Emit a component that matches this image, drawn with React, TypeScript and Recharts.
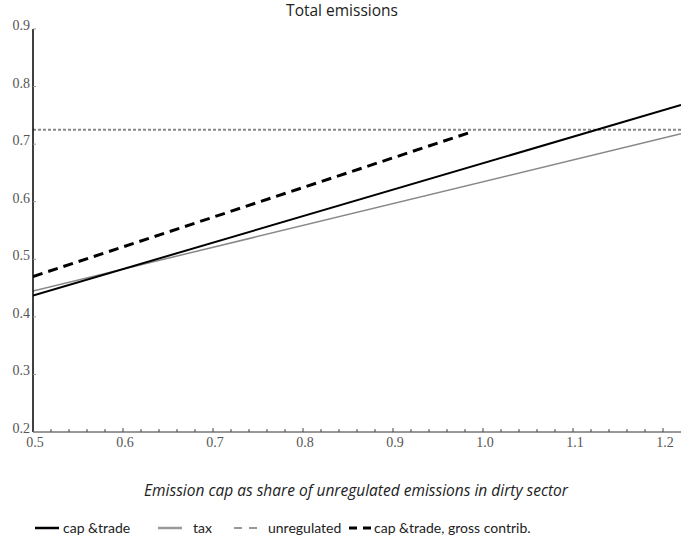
import { LineChart, Line, XAxis, YAxis } from 'recharts';

// x positions (emission cap as share of unregulated emissions)
const X_START = 0.5;
const X_END = 1.22;
const GROSS_END = 0.985;

const CAP_TRADE = [0.437, 0.768];
const TAX = [0.445, 0.718];
const UNREGULATED = [0.725, 0.725];
const GROSS = [0.47, 0.72];

const Y_TICKS = [0.2, 0.3, 0.4, 0.5, 0.6, 0.7, 0.8, 0.9];
const X_MAJOR = [0.5, 0.6, 0.7, 0.8, 0.9, 1.0, 1.1, 1.2];
const X_MINOR = [
  0.52, 0.54, 0.56, 0.58, 0.62, 0.64, 0.66, 0.68, 0.72, 0.74, 0.76, 0.78,
  0.82, 0.84, 0.86, 0.88, 0.92, 0.94, 0.96, 0.98, 1.02, 1.04, 1.06, 1.08,
  1.12, 1.14, 1.16, 1.18,
];

const capData = [
  { x: X_START, y: CAP_TRADE[0] },
  { x: X_END, y: CAP_TRADE[1] },
];
const taxData = [
  { x: X_START, y: TAX[0] },
  { x: X_END, y: TAX[1] },
];
const unregData = [
  { x: X_START, y: UNREGULATED[0] },
  { x: X_END, y: UNREGULATED[1] },
];
const grossData = [
  { x: X_START, y: GROSS[0] },
  { x: GROSS_END, y: GROSS[1] },
];

const serif = '"Liberation Serif", "Times New Roman", "DejaVu Serif", serif';
const sans = '"Open Sans", "Noto Sans", sans-serif';
const legendFont = 'Lato, "Open Sans", sans-serif';

function XTick(props: any) {
  const { x, y, payload } = props;
  const v = Math.round(payload.value * 100) / 100;
  const major = X_MAJOR.some((m) => Math.abs(m - v) < 1e-6);
  return (
    <g>
      <line x1={x} x2={x} y1={y} y2={y - (major ? 4 : 3)} stroke="#444" strokeWidth={1} />
      {major && (
        <text x={x + 2} y={y + 15} textAnchor="middle" fontFamily={serif} fontSize={14} fill="#555">
          {v.toFixed(1)}
        </text>
      )}
    </g>
  );
}

function YTick(props: any) {
  const { x, y, payload } = props;
  return (
    <g>
      <line x1={x} x2={x + 3} y1={y} y2={y} stroke="#999" strokeWidth={1} />
      <text x={x - 3} y={y + 1} textAnchor="end" fontFamily={serif} fontSize={14} fill="#555">
        {payload.value.toFixed(1)}
      </text>
    </g>
  );
}

function LegendItem({ color, dash, width, label, lineX, textX }: any) {
  return (
    <>
      <svg width={24} height={6} style={{ position: 'absolute', left: lineX, top: 7 }}>
        <line x1={0} x2={24} y1={3} y2={3} stroke={color} strokeWidth={width} strokeDasharray={dash} />
      </svg>
      <span style={{ position: 'absolute', left: textX, top: 0, lineHeight: '20px', whiteSpace: 'nowrap' }}>{label}</span>
    </>
  );
}

export default function App() {
  const allX = [...X_MAJOR, ...X_MINOR].sort((a, b) => a - b);
  return (
    <div style={{ position: 'absolute', left: 0, top: 0, width: 684, height: 546, background: '#fff' }}>
      <div
        style={{
          position: 'absolute',
          left: 0,
          width: 684,
          top: 0,
          textAlign: 'center',
          fontFamily: sans,
          fontSize: 15.5,
          color: '#222',
          lineHeight: '20px',
        }}
      >
        Total emissions
      </div>
      <LineChart width={684} height={546} margin={{ top: 29, right: 3, left: 0, bottom: 94 }}>
        <XAxis
          dataKey="x"
          type="number"
          domain={[X_START, X_END]}
          ticks={allX}
          interval={0}
          tick={<XTick />}
          tickLine={false}
          tickSize={0}
          tickMargin={0}
          height={20}
          stroke="#333"
          allowDataOverflow
        />
        <YAxis
          dataKey="y"
          type="number"
          domain={[0.2, 0.9]}
          ticks={Y_TICKS}
          interval={0}
          tick={<YTick />}
          tickLine={false}
          tickSize={0}
          tickMargin={0}
          width={33}
          stroke="#000"
          strokeWidth={1.5}
          allowDataOverflow
        />
        <Line data={unregData} dataKey="y" stroke="#888" strokeWidth={2} strokeDasharray="3 2" dot={false} isAnimationActive={false} />
        <Line data={taxData} dataKey="y" stroke="#888" strokeWidth={1.5} dot={false} isAnimationActive={false} />
        <Line data={capData} dataKey="y" stroke="#000" strokeWidth={2} dot={false} isAnimationActive={false} />
        <Line data={grossData} dataKey="y" stroke="#000" strokeWidth={3} strokeDasharray="10 6" dot={false} isAnimationActive={false} />
      </LineChart>
      <div
        style={{
          position: 'absolute',
          left: 0,
          width: 684,
          top: 479,
          textAlign: 'center',
          fontFamily: sans,
          fontStyle: 'italic',
          fontSize: 15.5,
          lineHeight: '22px',
          color: '#222',
          paddingLeft: 28,
          boxSizing: 'border-box',
        }}
      >
        Emission cap as share of unregulated emissions in dirty sector
      </div>
      <div
        style={{
          position: 'absolute',
          left: 0,
          top: 518,
          width: 684,
          height: 20,
          fontFamily: legendFont,
          fontSize: 14,
          color: '#222',
        }}
      >
        <LegendItem color="#000" width={2.5} label="cap &trade" lineX={35} textX={63} />
        <LegendItem color="#999" width={2.5} label="tax" lineX={158} textX={193} />
        <LegendItem color="#999" width={2} dash="8 7" label="unregulated" lineX={234} textX={268} />
        <LegendItem color="#000" width={3} dash="8 6" label="cap &trade, gross contrib." lineX={349} textX={374} />
      </div>
    </div>
  );
}
